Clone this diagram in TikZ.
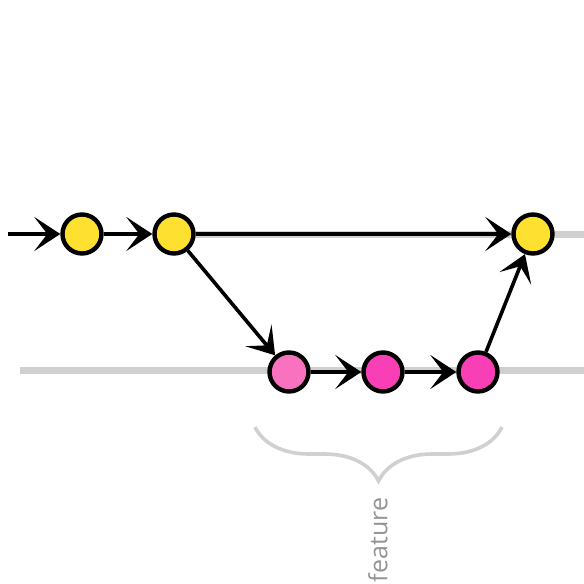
\documentclass[tikz,border=0pt]{standalone}
\usepackage{fontspec}
\setsansfont{Open Sans}
\usetikzlibrary{arrows.meta,decorations.pathreplacing}
\definecolor{commitY}{HTML}{FDE030}
\definecolor{pinkA}{HTML}{F872C0}
\definecolor{pinkB}{HTML}{F83FB5}
\definecolor{trackgray}{HTML}{D0D0D0}
\begin{document}
\begin{tikzpicture}[x=0.5pt,y=-0.5pt,
  commit/.style={circle,draw=black,line width=2.2pt,minimum size=19.5pt,inner sep=0pt},
  link/.style={line width=1.8pt,-{Stealth[length=13pt,width=17pt,inset=6.5pt]}},
  track/.style={line width=3.5pt,draw=trackgray}]
\useasboundingbox (0,0) rectangle (584,584);
\coordinate (start) at (8,234);
\coordinate (mainend) at (584,234);
\coordinate (featstart) at (20,370);
\coordinate (featend) at (584,370);
\coordinate (braceL) at (255,427);
\coordinate (braceR) at (502,427);
\draw[track] (174,234) -- (mainend);
\draw[track] (featstart) -- (featend);
\foreach \x/\n in {82/1,174/2,533/3} {
  \node[commit,fill=commitY] (Y\n) at (\x,234) {};
}
\foreach \x/\n/\c in {289/1/pinkA,383/2/pinkB,478/3/pinkB} {
  \node[commit,fill=\c] (P\n) at (\x,372) {};
}
\draw[link] (start) -- (Y1);
\draw[link] (Y1) -- (Y2);
\draw[link] (Y2) -- (Y3);
\draw[link] (Y2) -- (P1);
\draw[link] (P1) -- (P2);
\draw[link] (P2) -- (P3);
\draw[link] (P3) -- (Y3);
\draw[trackgray,line width=1.8pt,decorate,decoration={brace,mirror,amplitude=27pt}] (braceL) -- (braceR);
\node[rotate=90,text=black!42,font=\sffamily\fontsize{12.5}{15}\selectfont] (label) at (378,540) {feature};
\end{tikzpicture}
\end{document}
